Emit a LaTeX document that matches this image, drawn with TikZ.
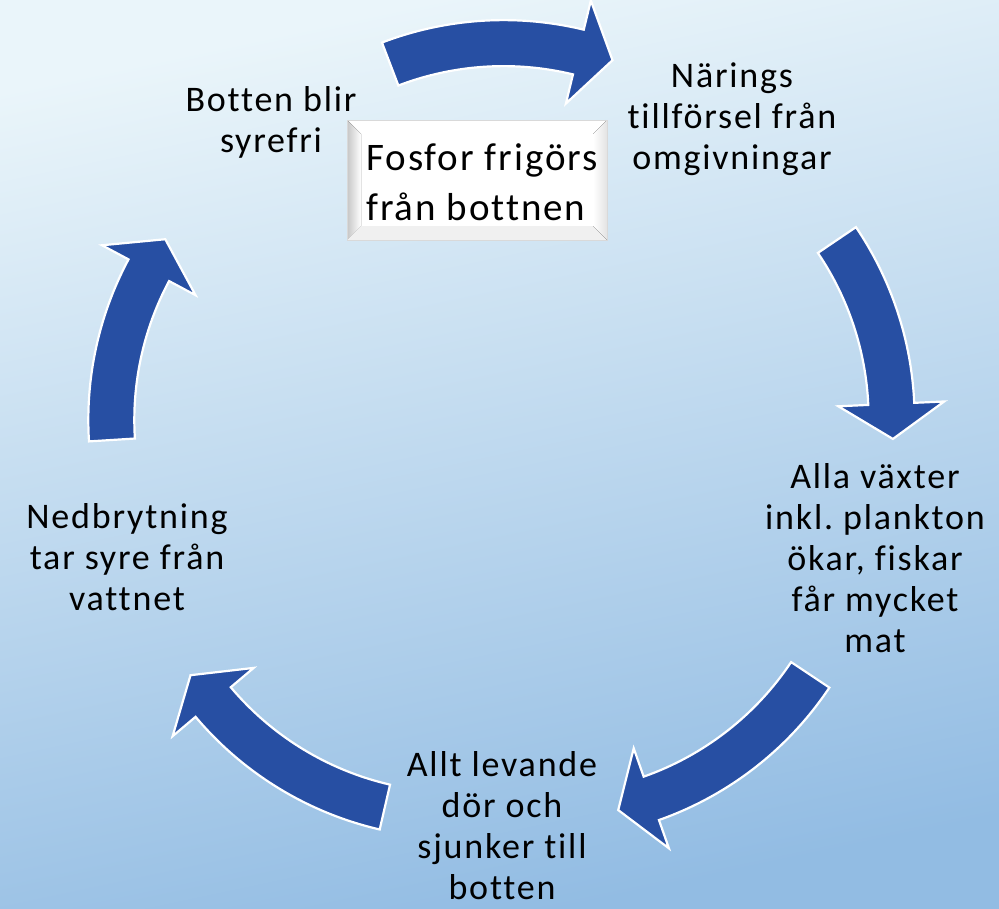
\documentclass[tikz,border=0pt]{standalone}
\usepackage{fontspec}
\setmainfont{Carlito}[LetterSpace=5.0, Ligatures=NoCommon]
\usetikzlibrary{calc}
\definecolor{arrowblue}{RGB}{39,79,163}
\definecolor{bgtop}{RGB}{234,245,250}
\definecolor{bgmid}{RGB}{208,230,244}
\definecolor{bgbot}{RGB}{146,188,227}
\frenchspacing

\begin{document}
\begin{tikzpicture}[x=1pt,y=-1pt,
    cyctext/.style={align=center, anchor=north, inner sep=0pt, font=\fontsize{36}{41}\selectfont},
    cycarrow/.style={fill=arrowblue, draw=white, line width=2.2pt}]
  % background
  \shade[top color=bgtop, middle color=bgmid, bottom color=bgbot, shading angle=12] (0,0) rectangle (999,908);
  \useasboundingbox (0,0) rectangle (999,908);

  % arrows: arc centre / tail / shoulder / tip angle
  \foreach \ax/\ay/\ta/\sa/\pa in {503.6/361.1/-110.9/-76.4/-70.1, 573.6/418.3/-34.1/-2.6/3.7,
      545.7/498.4/33.7/70.6/76.9, 456.4/497.2/103.0/139.9/146.2, 429.3/420/176.4/208.1/214.4} {
    \draw[cycarrow] ($(\ax,\ay)+(\ta:341)$) arc[start angle=\ta, end angle=\sa, radius=341]
      -- ($(\ax,\ay)+(\sa:371)$) -- ($(\ax,\ay)+(\pa:320)$) -- ($(\ax,\ay)+(\sa:265)$)
      -- ($(\ax,\ay)+(\sa:295)$) arc[start angle=\sa, end angle=\ta, radius=295] -- cycle;
  }

  % bevelled box
  \fill[white] (347,120) rectangle (607,240);
  \fill[left color=gray!45, right color=white] (347,120) -- (361,134) -- (361,226) -- (347,240) -- cycle;
  \fill[gray!12] (347,240) -- (361,226) -- (593,226) -- (607,240) -- cycle;
  \fill[left color=white, right color=gray!22] (607,120) -- (593,134) -- (593,226) -- (607,240) -- cycle;
  \draw[gray!30, line width=0.6pt] (347,120) rectangle (607,240);
  \node[anchor=north west, inner sep=0pt, align=left, font=\fontsize{39}{50}\selectfont] (fosfor) at (366,135) {\strut Fosfor frigörs\\från bottnen};

  \node[cyctext] (naring) at (732,58.3) {\strut Närings\\tillförsel från\\omgivningar};
  \node[cyctext] (vaxter) at (875,459.3) {\strut Alla växter\\inkl. plankton\\ökar, fiskar\\får mycket\\mat};
  \node[cyctext] (levande) at (502,748) {\strut Allt levande\\dör och\\sjunker till\\botten};
  \node[cyctext] (nedbryt) at (127,499.3) {\strut Nedbrytning\\tar syre från\\vattnet};
  \node[cyctext] (syrefri) at (271,82.3) {\strut Botten blir\\syrefri};
\end{tikzpicture}
\end{document}
